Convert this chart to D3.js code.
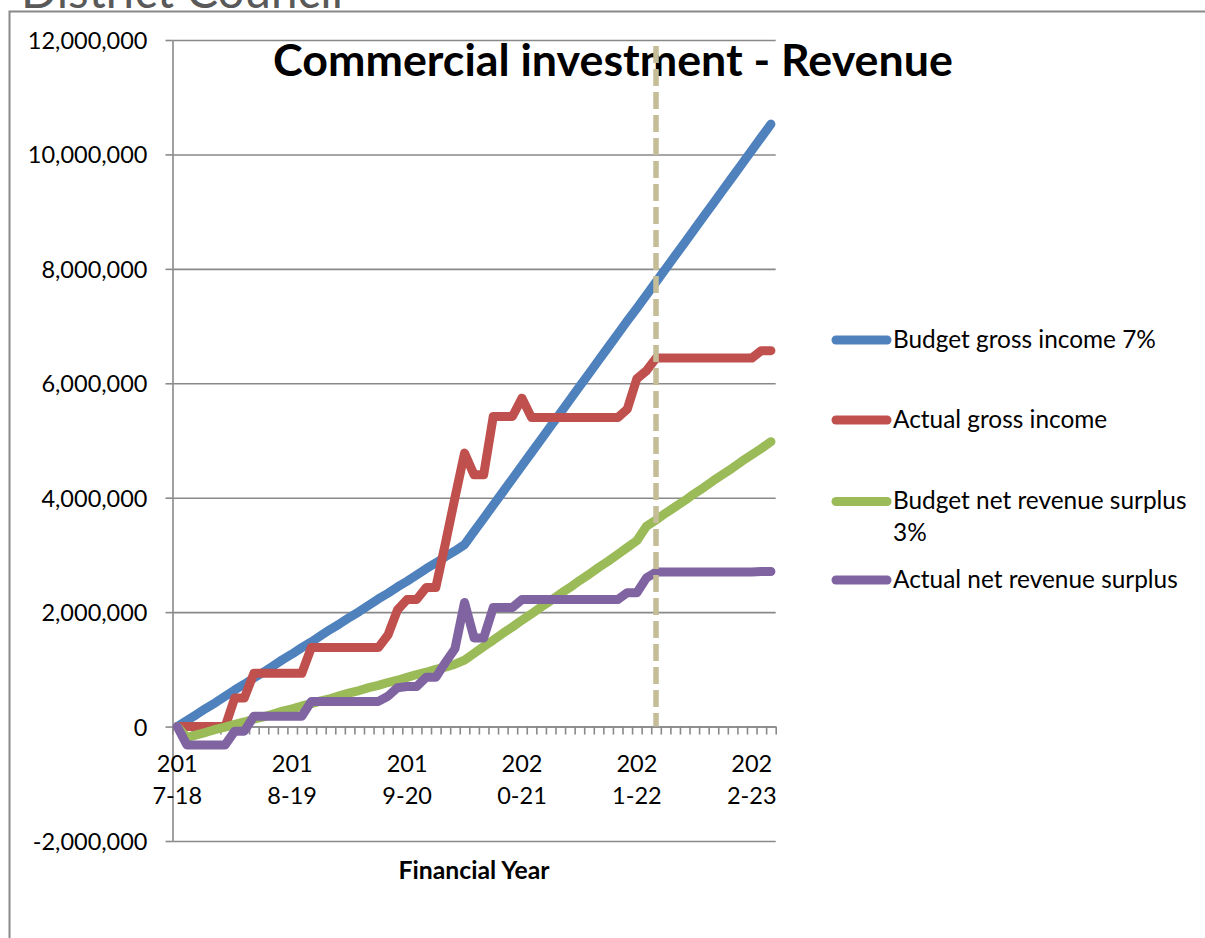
<!DOCTYPE html>
<meta charset="utf-8">
<style>
body { margin: 0; background: #fff; }
text { font-family: Lato, "Noto Sans", sans-serif; fill: #000; }
</style>
<body>
<svg width="1205" height="938"></svg>
<script src="https://d3js.org/d3.v7.min.js"></script>
<script>
// monthly values in £m, April 2017 onwards (63 months)
var budgetGross = [0, 0.106, 0.21, 0.32, 0.42, 0.53, 0.64, 0.74, 0.85, 0.95,
  1.06, 1.17, 1.27, 1.38, 1.48, 1.59, 1.70, 1.80, 1.91, 2.01,
  2.12, 2.23, 2.33, 2.44, 2.54, 2.65, 2.76, 2.86, 2.97, 3.07,
  3.18, 3.41, 3.64, 3.87, 4.10, 4.33, 4.56, 4.79, 5.02, 5.25,
  5.48, 5.71, 5.94, 6.17, 6.40, 6.63, 6.86, 7.09, 7.31, 7.54,
  7.77, 8.00, 8.23, 8.46, 8.69, 8.92, 9.15, 9.38, 9.61, 9.84,
  10.07, 10.30, 10.53];
var actualGross = [0, 0, 0, 0, 0, 0, 0.5, 0.5, 0.93, 0.93,
  0.93, 0.93, 0.93, 0.93, 1.38, 1.38, 1.38, 1.38, 1.38, 1.38,
  1.38, 1.38, 1.6, 2.04, 2.22, 2.22, 2.43, 2.43, 3.2, 4.0,
  4.78, 4.40, 4.40, 5.42, 5.42, 5.42, 5.74, 5.40, 5.40, 5.40,
  5.40, 5.40, 5.40, 5.40, 5.40, 5.40, 5.40, 5.55, 6.08, 6.22,
  6.44, 6.44, 6.44, 6.44, 6.44, 6.44, 6.44, 6.44, 6.44, 6.44,
  6.44, 6.57, 6.57];
var budgetNet = [0, -0.19, -0.145, -0.10, -0.05, -0.01, 0.04, 0.08, 0.13, 0.17,
  0.22, 0.27, 0.31, 0.36, 0.40, 0.45, 0.49, 0.54, 0.59, 0.63,
  0.68, 0.72, 0.77, 0.81, 0.86, 0.91, 0.95, 1.00, 1.04, 1.09,
  1.16, 1.28, 1.40, 1.51, 1.63, 1.74, 1.86, 1.97, 2.09, 2.20,
  2.32, 2.43, 2.55, 2.66, 2.78, 2.89, 3.01, 3.13, 3.25, 3.50,
  3.61, 3.73, 3.84, 3.95, 4.07, 4.18, 4.30, 4.41, 4.52, 4.64,
  4.75, 4.86, 4.98];
var actualNet = [0, -0.32, -0.32, -0.32, -0.32, -0.32, -0.08, -0.08, 0.18, 0.18,
  0.18, 0.18, 0.18, 0.18, 0.44, 0.44, 0.44, 0.44, 0.44, 0.44,
  0.44, 0.44, 0.53, 0.68, 0.70, 0.70, 0.86, 0.86, 1.12, 1.36,
  2.17, 1.55, 1.55, 2.08, 2.08, 2.08, 2.22, 2.22, 2.22, 2.22,
  2.22, 2.22, 2.22, 2.22, 2.22, 2.22, 2.22, 2.34, 2.34, 2.60,
  2.70, 2.70, 2.70, 2.70, 2.70, 2.70, 2.70, 2.70, 2.70, 2.70,
  2.70, 2.71, 2.71];

var yearLabels = ["2017-18", "2018-19", "2019-20", "2020-21", "2021-22", "2022-23"];
var yearStart = [0, 12, 24, 36, 48, 60];
var seriesNames = ["Budget gross income 7%", "Actual gross income", "Budget net revenue surplus 3%", "Actual net revenue surplus"];
var seriesColors = ["#4f81bd", "#c0504d", "#9bbb59", "#8064a2"];
var yTicks = [-2e6, 0, 2e6, 4e6, 6e6, 8e6, 10e6, 12e6];
var markerMonth = 50;

var series = [budgetGross, actualGross, budgetNet, actualNet];
var grey = "#898989";

var svg = d3.select("svg");

// width-fit helper for the Calibri-ish headings
function fit(t, w) {
  var cur = t.node().getComputedTextLength();
  t.attr("font-size", parseFloat(t.attr("font-size")) * w / cur);
}

// bit of the slide title peeking out above the chart
var dc = svg.append("text").attr("x", 21).attr("y", 7.5)
  .attr("font-size", 44).style("fill", "#595959").text("District Council");
fit(dc, 322);

svg.append("rect")
  .attr("x", 9.5).attr("y", 11.5).attr("width", 1210).attr("height", 940)
  .attr("fill", "#fff").attr("stroke", grey).attr("stroke-width", 2);

var x = d3.scaleLinear().domain([-0.5, 62.5]).range([172.5, 775.7]);
var y = d3.scaleLinear().domain([-2e6, 12e6]).range([841, 40]);

// gridlines
svg.append("g")
  .attr("transform", "translate(172.5,0)")
  .call(d3.axisRight(y).tickValues(yTicks).tickSize(x.range()[1] - 172.5).tickFormat(""))
  .call(g => g.select(".domain").remove())
  .call(g => g.selectAll("line").attr("stroke", grey).attr("stroke-width", 1.6));

// y axis (plain hyphen for negatives, as in excel)
var fmt = d3.format(",");
svg.append("g")
  .attr("transform", "translate(172.5,0)")
  .call(d3.axisLeft(y).tickValues(yTicks).tickSize(7).tickSizeOuter(0).tickPadding(18)
    .tickFormat(d => fmt(d).replace("\u2212", "-")))
  .call(g => g.select(".domain").attr("stroke", grey).attr("stroke-width", 1.6))
  .call(g => g.selectAll("line").attr("stroke", grey).attr("stroke-width", 1.6))
  .call(g => g.selectAll("text").attr("font-size", 23.5).attr("font-family", "Lato").attr("dy", "0.36em").attr("fill", "#000"));

// x axis, one tick between each month
svg.append("g")
  .attr("transform", "translate(0," + y(0) + ")")
  .call(d3.axisBottom(x).tickValues(d3.range(64).map(i => i - 0.5)).tickSize(8).tickSizeOuter(0).tickFormat(""))
  .call(g => g.select(".domain").attr("stroke", grey).attr("stroke-width", 1.6))
  .call(g => g.selectAll("line").attr("stroke", grey).attr("stroke-width", 1.6));

// wrapped year labels like excel does ("201" / "7-18")
var xl = svg.append("g").selectAll("text").data(yearLabels).join("text")
  .attr("text-anchor", "middle").attr("font-size", 23.5)
  .attr("transform", (d, i) => "translate(" + x(yearStart[i]) + ",0)");
xl.append("tspan").attr("x", 0).attr("y", 772).text(d => d.slice(0, 3));
xl.append("tspan").attr("x", 0).attr("y", 804).text(d => d.slice(3));

svg.append("text").attr("x", 474).attr("y", 878.5).attr("text-anchor", "middle")
  .attr("font-weight", "bold").attr("font-size", 20).text("Financial Year")
  .call(t => fit(t, 151));

// lines
var line = d3.line().x((d, i) => x(i)).y(d => y(d * 1e6));
svg.append("g").selectAll("path").data(series).join("path")
  .attr("d", line)
  .attr("fill", "none")
  .attr("stroke", (d, i) => seriesColors[i])
  .attr("stroke-width", 9)
  .attr("stroke-linejoin", "round")
  .attr("stroke-linecap", "round");

// title
svg.append("text").attr("x", 613).attr("y", 76).attr("text-anchor", "middle")
  .attr("font-weight", "bold").attr("font-size", 40).text("Commercial investment - Revenue")
  .call(t => fit(t, 680));

// marker for current month
svg.append("line")
  .attr("x1", x(markerMonth)).attr("x2", x(markerMonth))
  .attr("y1", 46).attr("y2", y(0))
  .attr("stroke", "#c4bd97").attr("stroke-width", 5.5)
  .attr("stroke-dasharray", "17,6");

// legend
var legY = [340, 420, 501.5, 580];
var legSize = 24;
var leg = svg.append("g").selectAll("g").data(seriesNames).join("g")
  .attr("transform", (d, i) => "translate(0," + legY[i] + ")");
leg.append("line").attr("x1", 836).attr("x2", 887)
  .attr("stroke", (d, i) => seriesColors[i]).attr("stroke-width", 9).attr("stroke-linecap", "round");
var lt = leg.append("text").attr("x", 893).attr("font-size", legSize);
lt.each(function(d) {
  var t = d3.select(this);
  if (d.indexOf("surplus 3%") > 0) {
    t.append("tspan").attr("x", 893).attr("y", 7.5).text("Budget net revenue surplus");
    t.append("tspan").attr("x", 893).attr("y", 39).text("3%");
  } else {
    t.append("tspan").attr("x", 893).attr("y", 7.5).text(d);
  }
});
// match the first legend entry's width to the reference, same size for all
var w0 = lt.node().getComputedTextLength();
lt.attr("font-size", legSize * 263 / w0);
</script>
</body>
